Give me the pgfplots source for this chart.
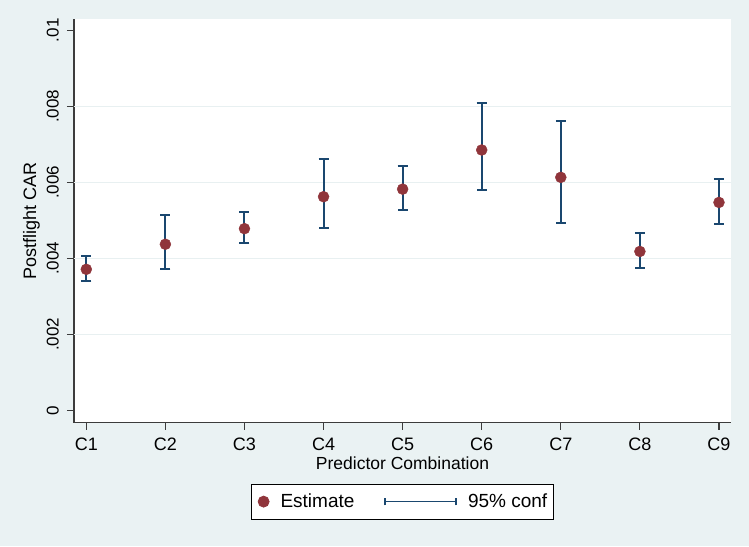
\documentclass[border=0pt]{standalone}
\usepackage{pgfplots}
\pgfplotsset{compat=1.18}
\usepackage{pgfplotstable}
\usepackage{fontspec}
\setmainfont{Liberation Sans}
\definecolor{bgc}{RGB}{234,242,243}
\definecolor{gridc}{RGB}{232,240,241}
\definecolor{cranberry}{RGB}{144,53,59}
\definecolor{navy}{RGB}{26,71,111}
\definecolor{axisc}{RGB}{60,60,60}
\pgfplotstableread{
x y lo hi
1 0.00371 0.00341 0.00405
2 0.00437 0.00372 0.00515
3 0.00478 0.00439 0.00521
4 0.00562 0.00479 0.00660
5 0.00582 0.00528 0.00644
6 0.00685 0.00581 0.00808
7 0.00613 0.00492 0.00761
8 0.00418 0.00374 0.00467
9 0.00547 0.00491 0.00609
}\datatable
\begin{document}
\begin{tikzpicture}
\path[use as bounding box, fill=bgc] (0,0) rectangle (749pt,546pt);
\begin{axis}[
  at={(74pt,123.3pt)}, anchor=south west,
  scale only axis, width=657pt, height=403.7pt,
  xmin=0.8445, xmax=9.152, ymin=-0.000326, ymax=0.010297,
  axis background/.style={fill=white},
  axis x line*=bottom, axis y line*=left,
  axis line style={-, draw=axisc, line width=1.2pt},
  every outer x axis line/.append style={-},
  every outer y axis line/.append style={-},
  tick align=outside, major tick length=7pt,
  tick style={line width=1.2pt, draw=axisc},
  xtick={1,2,3,4,5,6,7,8,9},
  xticklabels={C1,C2,C3,C4,C5,C6,C7,C8,C9},
  ytick={0,0.002,0.004,0.006,0.008,0.01},
  yticklabels={0,.002,.004,.006,.008,.01},
  scaled y ticks=false,
  /pgf/number format/assume math mode=true,
  xticklabel style={anchor=north, inner sep=0pt, font=\fontsize{18}{21}\selectfont},
  yticklabel style={rotate=90, anchor=south, inner sep=0pt, font=\fontsize{17}{20}\selectfont},
  xticklabel shift=8pt, yticklabel shift=8pt,
  extra y ticks={0.002,0.004,0.006,0.008},
  extra y tick style={grid=major, major tick length=0pt, yticklabel={}, major grid style={draw=gridc, line width=1.3pt}},
  xlabel={Predictor Combination},
  ylabel={Postflight CAR},
  every axis x label/.style={at={(axis description cs:0.5,-0.1154)}, anchor=base, font=\fontsize{17.5}{20}\selectfont},
  every axis y label/.style={at={(axis description cs:-0.0578,0.5)}, rotate=90, anchor=base, font=\fontsize{18}{21}\selectfont},
  legend columns=2,
  legend style={at={(0.5,-0.1955)}, anchor=center, draw=black, line width=0.8pt, fill=white,
    font=\fontsize{19}{22}\selectfont, inner xsep=6pt, inner ysep=10pt,
    nodes={inner sep=0pt},
    /tikz/every odd column/.style={column sep=11pt},
    /tikz/every even column/.style={column sep=30pt}},
]
\addplot[only marks, mark=none, forget plot,
  error bars/.cd, y dir=both, y explicit, error mark=|,
  error bar style={line width=2pt, draw=navy},
  error mark options={line width=2pt, draw=navy, mark size=5pt}]
  table[x=x, y=y, y error plus expr=\thisrow{hi}-\thisrow{y}, y error minus expr=\thisrow{y}-\thisrow{lo}] {\datatable};
\addplot[only marks, mark=*, mark size=5.5pt, color=cranberry, draw=cranberry, fill=cranberry,
  legend image code/.code={\fill[cranberry] (5.5pt,0pt) circle (5.5pt);}]
  table[x=x, y=y] {\datatable};
\addlegendentry{Estimate}
\addlegendimage{legend image code/.code={
  \draw[navy, line width=1.6pt] (0pt,0pt) -- (71pt,0pt);
  \draw[navy, line width=1.6pt] (0pt,-3.8pt) -- (0pt,3.8pt);
  \draw[navy, line width=1.6pt] (71pt,-3.8pt) -- (71pt,3.8pt);}}
\addlegendentry{95\% conf}
\end{axis}
\end{tikzpicture}
\end{document}
